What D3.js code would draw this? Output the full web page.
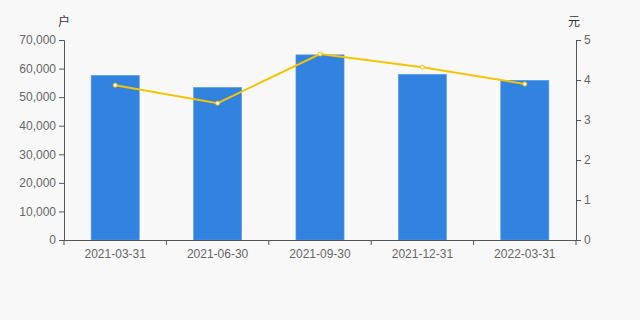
<!DOCTYPE html>
<html>
<head>
<meta charset="utf-8">
<script src="https://cdn.jsdelivr.net/npm/d3@7"></script>
<style>
  body { margin: 0; background: #f8f8f8; }
  #chart { width: 640px; height: 320px; }
  text { font-family: "Liberation Sans", Arial, sans-serif; }
</style>
</head>
<body>
<div id="chart"></div>
<script>
// Data
const dates = ['2021-03-31', '2021-06-30', '2021-09-30', '2021-12-31', '2022-03-31'];
const holders = [57600, 53400, 64800, 58000, 55900];   // 户 (left axis)
const perShare = [3.87, 3.42, 4.65, 4.32, 3.90];        // 元 (right axis)
const leftTicks = [0, 10000, 20000, 30000, 40000, 50000, 60000, 70000];
const rightTicks = [0, 1, 2, 3, 4, 5];

function createChart() {
    const margin = {top: 40, right: 64, bottom: 80, left: 64};
    const width = 640 - margin.left - margin.right;
    const height = 320 - margin.top - margin.bottom;

    const svg = d3.select("#chart")
        .append("svg")
        .attr("width", 640)
        .attr("height", 320)
        .append("g")
        .attr("transform", `translate(${margin.left},${margin.top})`);

    // Scales
    const x = d3.scaleBand().domain(dates).range([0, width]).paddingInner(0.53).paddingOuter(0.265);
    const xb = d3.scaleBand().domain(dates).range([0, width]);
    const yL = d3.scaleLinear().domain([0, 70000]).range([height, 0]);
    const yR = d3.scaleLinear().domain([0, 5]).range([height, 0]);

    // Bars
    svg.selectAll(".bar")
        .data(dates)
        .enter().append("rect")
        .attr("x", d => x(d))
        .attr("width", x.bandwidth())
        .attr("y", (d, i) => yL(holders[i]))
        .attr("height", (d, i) => height - yL(holders[i]))
        .attr("fill", "#3282e0")
        .attr("stroke", "#5a9bea")
        .attr("stroke-width", 0.6);

    // Axes
    const axisColor = "#555";
    const fmt = d3.format(",");

    const gL = svg.append("g")
        .call(d3.axisLeft(yL).tickValues(leftTicks).tickFormat(fmt).tickSizeOuter(0).tickSize(5).tickPadding(3));
    const gR = svg.append("g")
        .attr("transform", `translate(${width},0)`)
        .call(d3.axisRight(yR).tickValues(rightTicks).tickFormat(d3.format("d")).tickSizeOuter(0).tickSize(5).tickPadding(3));
    const gX = svg.append("g")
        .attr("transform", `translate(0,${height})`)
        .call(d3.axisBottom(xb).tickSize(0).tickPadding(9).tickSizeOuter(0));

    // Ticks between categories on x axis
    gX.selectAll(".sep")
        .data(d3.range(dates.length + 1))
        .enter().append("line")
        .attr("x1", i => i * xb.step())
        .attr("x2", i => i * xb.step())
        .attr("y1", 0)
        .attr("y2", 5)
        .attr("stroke", axisColor);

    [gL, gR, gX].forEach(g => {
        g.selectAll("path, line").attr("stroke", axisColor);
        g.selectAll("text").attr("fill", "#666").style("font-size", "12px");
    });

    // Line
    const line = d3.line()
        .x((d, i) => xb(dates[i]) + xb.bandwidth() / 2)
        .y(d => yR(d));

    svg.append("path")
        .datum(perShare)
        .attr("d", line)
        .attr("fill", "none")
        .attr("stroke", "#f5c400")
        .attr("stroke-width", 2);

    svg.selectAll(".dot")
        .data(perShare)
        .enter().append("circle")
        .attr("cx", (d, i) => xb(dates[i]) + xb.bandwidth() / 2)
        .attr("cy", d => yR(d))
        .attr("r", 2)
        .attr("fill", "#fff")
        .attr("stroke", "#f5c400")
        .attr("stroke-width", 1);

    // Unit labels
    svg.append("text")
        .attr("x", 0)
        .attr("y", -14)
        .attr("text-anchor", "middle")
        .style("font-size", "12px")
        .attr("fill", "#333")
        .style("font-family", "'Noto Sans CJK SC', sans-serif")
        .text("户");

    svg.append("text")
        .attr("x", width - 2)
        .attr("y", -14)
        .attr("text-anchor", "middle")
        .style("font-size", "12px")
        .attr("fill", "#333")
        .style("font-family", "'Noto Sans CJK SC', sans-serif")
        .text("元");
}

createChart();
</script>
</body>
</html>
